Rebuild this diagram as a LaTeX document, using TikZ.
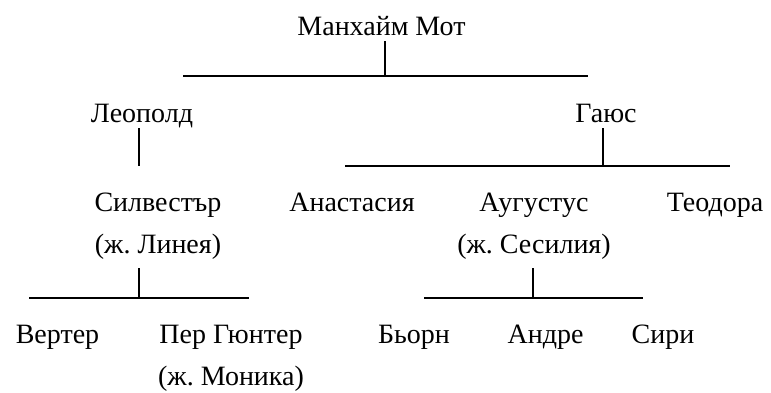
\documentclass[tikz,border=0pt]{standalone}
\usepackage{fontspec}
\setmainfont{Liberation Serif}[Script=Cyrillic,Language=Bulgarian]
\usepackage{tikz}
\frenchspacing

\tikzset{
  person/.style={inner sep=0pt, anchor=base, align=center,
    font=\fontsize{28}{42}\selectfont},
  bar/.style={line width=1.1pt}
}

\begin{document}
\begin{tikzpicture}[x=1pt,y=1pt,yscale=-1,xscale=1]
\useasboundingbox (0,0) rectangle (771,392);

% Text Node
\node [person] (mm) at (381.5,35) {Манхайм Мот};
% Text Node
\node [person] (leo) at (142,122) {Леополд};
% Text Node
\node [person] (gai) at (606,122) {Гаюс};
% Text Node
\node [person] (sil) at (158,253) {Силвестър\\(ж. Линея)};
% Text Node
\node [person] (ana) at (352,211) {Анастасия};
% Text Node
\node [person] (aug) at (534,253) {Аугустус\\(ж. Сесилия)};
% Text Node
\node [person] (teo) at (715,211) {Теодора};
% Text Node
\node [person] (ver) at (57.5,343) {Вертер};
% Text Node
\node [person] (per) at (231,385) {Пер Гюнтер\\(ж. Моника)};
% Text Node
\node [person] (bjo) at (414,343) {Бьорн};
% Text Node
\node [person] (and) at (545.5,343) {Андре};
% Text Node
\node [person] (sir) at (663,343) {Сири};

%Bar points
\coordinate (b1) at (385,76);
\coordinate (b2) at (139,166);
\coordinate (b3) at (603,166);
\coordinate (b4) at (139,298);
\coordinate (b5) at (533,298);

%Straight Lines
\draw [bar] ([yshift=6pt]mm.base -| b1) -- (b1);
\draw [bar] (b1 -| 183,0) -- (b1 -| 588,0);
%Straight Lines
\draw [bar] ([yshift=6pt]leo.base -| b2) -- (b2);
%Straight Lines
\draw [bar] ([yshift=6pt]gai.base -| b3) -- (b3);
\draw [bar] (b3 -| 345,0) -- (b3 -| 730,0);
%Straight Lines
\draw [bar] ([yshift=15pt]sil.base -| b4) -- (b4);
\draw [bar] (b4 -| 29,0) -- (b4 -| 249,0);
%Straight Lines
\draw [bar] ([yshift=15pt]aug.base -| b5) -- (b5);
\draw [bar] (b5 -| 424,0) -- (b5 -| 643,0);
\end{tikzpicture}
\end{document}
